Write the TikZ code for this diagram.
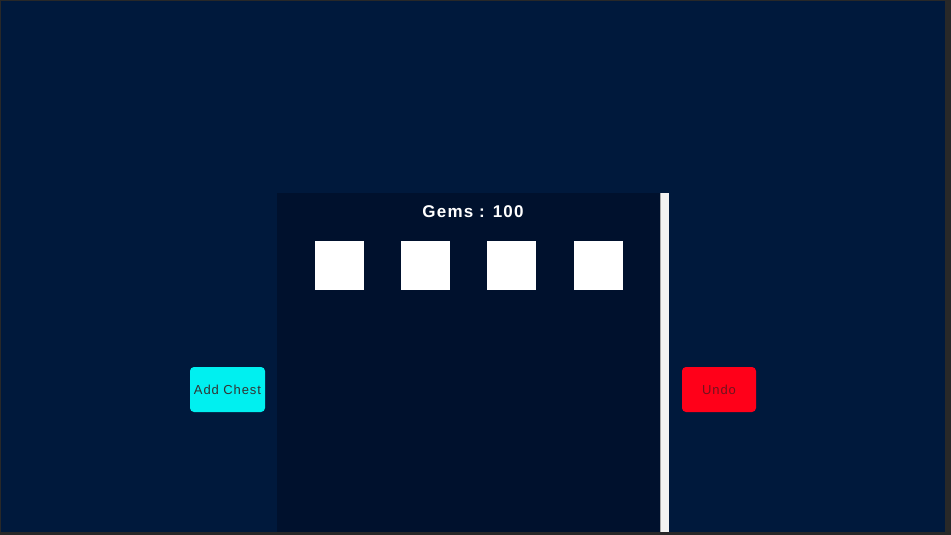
\documentclass[tikz,border=0pt]{standalone}
\usepackage{fontspec}
\setmainfont{Liberation Sans}
\newfontfamily\spaced[LetterSpace=7]{Liberation Sans}
\definecolor{frame}{RGB}{40,40,40}
\definecolor{bg}{RGB}{0,25,60}
\definecolor{panel}{RGB}{0,17,45}
\definecolor{scroll}{RGB}{242,242,242}
\definecolor{scrolledge}{RGB}{170,170,170}
\definecolor{cyanbtn}{RGB}{0,240,240}
\definecolor{redbtn}{RGB}{255,0,25}
\definecolor{btntext}{RGB}{50,50,50}
\definecolor{undotext}{RGB}{110,20,30}
\begin{document}
\begin{tikzpicture}[x=1pt,y=-1pt,
  slot/.style={fill=white,draw=none},
  btn/.style={rounded corners=4pt,draw=none},
  btnlabel/.style={font=\spaced\fontsize{13}{15}\selectfont,inner sep=0pt}]
\useasboundingbox (0,0) rectangle (951,535);
\fill[frame] (0,0) rectangle (951,535);
\fill[bg] (1,1) rectangle (945,532);
\fill[panel] (277,193) rectangle (660,532);
\fill[scroll] (660,193) rectangle (669,532);
\fill[scrolledge] (660,193) rectangle (661,532);
\node[font=\spaced\bfseries\fontsize{17}{20}\selectfont,text=white,inner sep=0pt] (gems) at (473,212) {Gems : 100};
\fill[slot] (315,241) rectangle (364,290);
\fill[slot] (401,241) rectangle (450,290);
\fill[slot] (487,241) rectangle (536,290);
\fill[slot] (574,241) rectangle (623,290);
\fill[btn,cyanbtn] (190,367) rectangle (265,412);
\node[btnlabel,text=btntext] (add) at (227.5,390) {Add Chest};
\fill[btn,redbtn] (682,367) rectangle (756,412);
\node[btnlabel,text=undotext] (undo) at (719,390) {Undo};
\end{tikzpicture}
\end{document}
